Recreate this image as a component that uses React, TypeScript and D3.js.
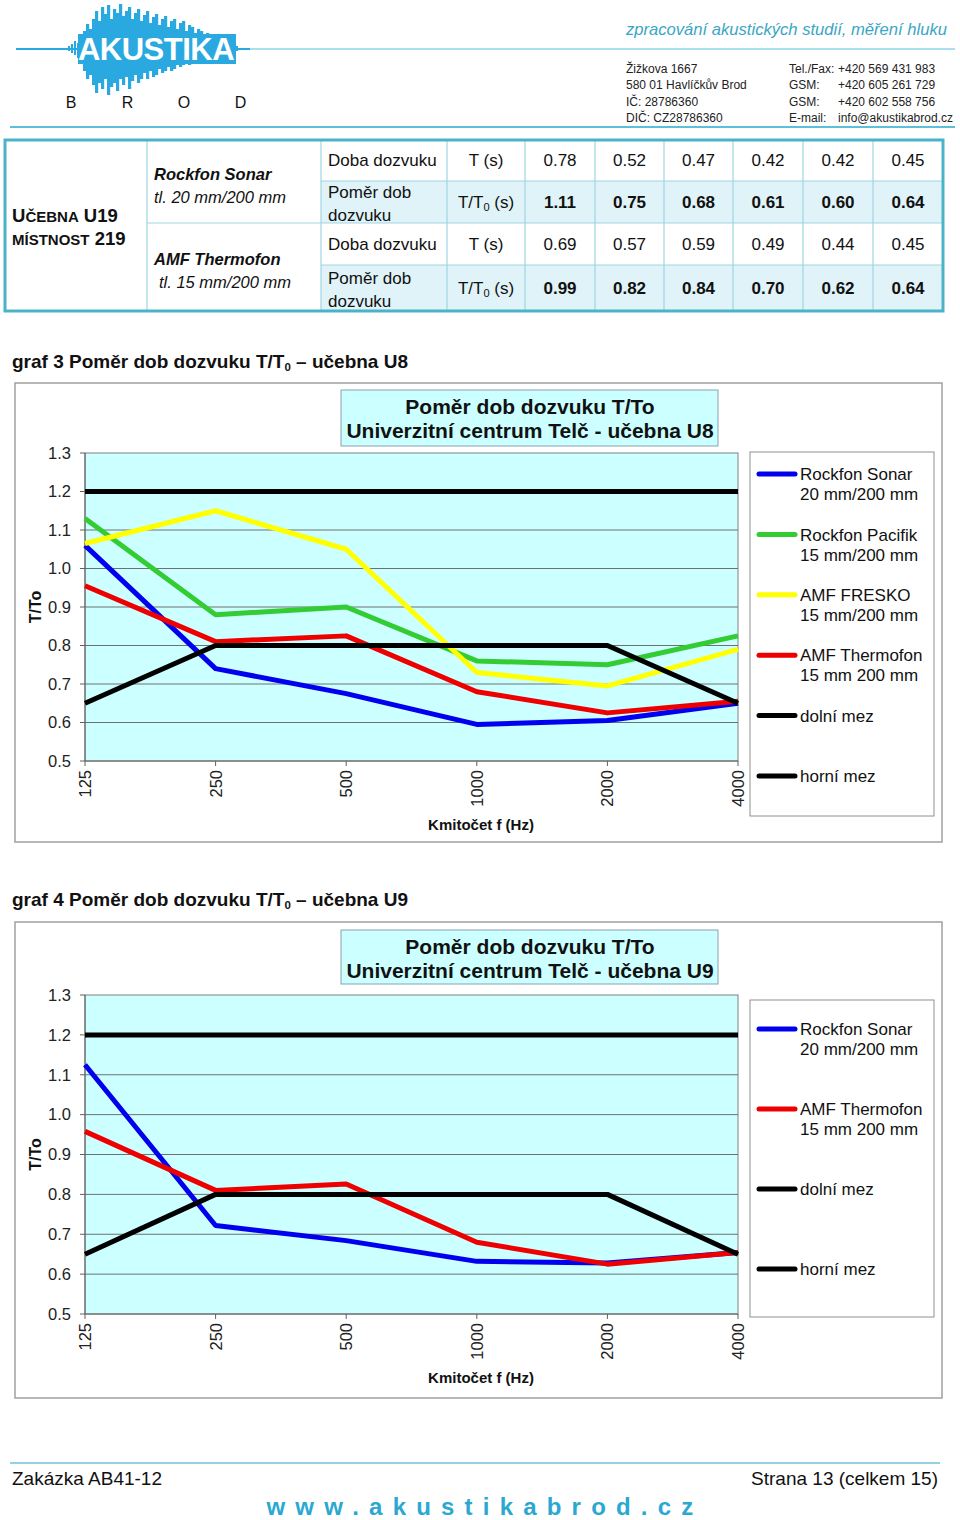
import React from "react";
import * as d3 from "d3";

// ---------- DATA ----------
const freqs = ["125", "250", "500", "1000", "2000", "4000"];
const yTicks = [0.5, 0.6, 0.7, 0.8, 0.9, 1.0, 1.1, 1.2, 1.3];

// table (učebna U19)
const sonarT = [0.78, 0.52, 0.47, 0.42, 0.42, 0.45];
const sonarRatio = [1.11, 0.75, 0.68, 0.61, 0.6, 0.64];
const thermoT = [0.69, 0.57, 0.59, 0.49, 0.44, 0.45];
const thermoRatio = [0.99, 0.82, 0.84, 0.7, 0.62, 0.64];

// graf 3 (U8)
const u8Sonar = [1.06, 0.74, 0.675, 0.595, 0.605, 0.65];
const u8Pacifik = [1.13, 0.88, 0.9, 0.76, 0.75, 0.825];
const u8Fresko = [1.065, 1.15, 1.05, 0.73, 0.695, 0.79];
const u8Thermofon = [0.955, 0.81, 0.825, 0.68, 0.625, 0.655];

// graf 4 (U9)
const u9Sonar = [1.125, 0.722, 0.684, 0.632, 0.628, 0.654];
const u9Thermofon = [0.958, 0.81, 0.826, 0.68, 0.625, 0.654];

// limits
const lowerLimit = [0.65, 0.8, 0.8, 0.8, 0.8, 0.65];
const upperLimit = [1.2, 1.2, 1.2, 1.2, 1.2, 1.2];

// logo decoration (waveform amplitudes)
const waveUp = [3,5,8,6,12,18,25,20,30,38,28,42,35,44,30,40,36,45,33,38,42,30,36,40,28,34,38,26,32,35,24,30,33,22,28,30,20,26,28,18,24,22,16,20,18,14,16,12,14,10,12,8,10,6,5,4,3];
const waveDown = [2,4,6,9,14,22,30,26,36,44,34,40,30,46,38,34,42,30,36,28,40,32,26,34,30,24,30,22,28,26,20,24,22,18,22,20,16,18,16,14,16,12,14,10,12,9,10,8,8,6,6,5,4,4,3,2,2];

const FONT = "'Liberation Sans', Arial, Helvetica, sans-serif";
const TEAL = "#4bb3c8";

type Series = { name: string[]; color: string; values: number[] };

function Chart(props: {
  top: number;
  bottom: number;
  plotTop: number;
  plotBottom: number;
  titleBox: [number, number];
  subtitle: string;
  series: Series[];
  legendBox: [number, number];
  legendFirst: number;
  legendStep: number;
}) {
  const { top, bottom, plotTop, plotBottom, series } = props;
  const x = d3.scalePoint<string>().domain(freqs).range([85, 738]);
  const y = d3.scaleLinear().domain([0.5, 1.3]).range([plotBottom, plotTop]);
  const line = d3
    .line<number>()
    .x((_, i) => x(freqs[i]) as number)
    .y((d) => y(d));
  const midY = (plotTop + plotBottom) / 2;
  return (
    <g fontFamily={FONT}>
      <rect x={15} y={top} width={927} height={bottom - top} fill="#fff" stroke="#a0a0a0" strokeWidth={1.5} />
      <rect x={85} y={plotTop} width={653} height={plotBottom - plotTop} fill="#ccffff" stroke="#808080" strokeWidth={1} />
      {yTicks.slice(1, -1).map((t) => (
        <line key={t} x1={85} x2={738} y1={y(t)} y2={y(t)} stroke="#707070" strokeWidth={1} />
      ))}
      {yTicks.map((t) => (
        <g key={"yt" + t}>
          <line x1={80} x2={85} y1={y(t)} y2={y(t)} stroke="#606060" />
          <text x={71} y={y(t)} dy="0.35em" textAnchor="end" fontSize={16.5} fill="#222">
            {t.toFixed(1)}
          </text>
        </g>
      ))}
      {freqs.map((f) => (
        <g key={"xt" + f}>
          <line x1={x(f)} x2={x(f)} y1={plotBottom} y2={plotBottom + 5} stroke="#606060" />
          <text
            transform={`translate(${(x(f) as number) + 6},${plotBottom + 9}) rotate(-90)`}
            textAnchor="end"
            fontSize={16.5}
            fill="#222"
          >
            {f}
          </text>
        </g>
      ))}
      <line x1={85} x2={85} y1={plotTop} y2={plotBottom} stroke="#606060" />
      <line x1={85} x2={738} y1={plotBottom} y2={plotBottom} stroke="#606060" />
      <text transform={`translate(41,${midY}) rotate(-90)`} textAnchor="middle" fontSize={16} fontWeight="bold" fill="#111">
        T/To
      </text>
      <text x={481} y={plotBottom + 69} textAnchor="middle" fontSize={15} fontWeight="bold" fill="#111">
        Kmitočet f (Hz)
      </text>
      {series.map((s, i) => (
        <path key={i} d={line(s.values) || ""} fill="none" stroke={s.color} strokeWidth={5} strokeLinejoin="round" />
      ))}
      {/* title */}
      <rect x={341} y={props.titleBox[0]} width={377} height={props.titleBox[1] - props.titleBox[0]} fill="#ccffff" stroke="#8aa0b0" />
      <text x={530} y={props.titleBox[0] + 24} textAnchor="middle" fontSize={21} fontWeight="bold" fill="#111">
        Poměr dob dozvuku T/To
      </text>
      <text x={530} y={props.titleBox[0] + 48} textAnchor="middle" fontSize={21} fontWeight="bold" fill="#111">
        {props.subtitle}
      </text>
      {/* legend */}
      <rect x={750} y={props.legendBox[0]} width={184} height={props.legendBox[1] - props.legendBox[0]} fill="#fff" stroke="#909090" />
      {series.map((s, i) => {
        const ly = props.legendFirst + i * props.legendStep;
        return (
          <g key={"lg" + i}>
            <line x1={759} x2={795} y1={ly} y2={ly} stroke={s.color} strokeWidth={5} strokeLinecap="round" />
            {s.name.map((n, j) => (
              <text key={j} x={800} y={ly + j * 20} dy="0.36em" fontSize={17} fill="#111">
                {n}
              </text>
            ))}
          </g>
        );
      })}
    </g>
  );
}

function Logo() {
  const n = Math.min(waveUp.length, waveDown.length);
  const cy = 49;
  return (
    <g>
      <line x1={16} x2={955} y1={cy} y2={cy} stroke="#8fd3e8" strokeWidth={1.5} />
      <line x1={16} x2={250} y1={cy} y2={cy} stroke="#29a9e0" strokeWidth={2} />
      {d3.range(n).map((i) => (
        <rect
          key={i}
          x={68 + i * 3}
          y={cy - waveUp[i]}
          width={i > 3 && i < n - 4 ? 3.2 : 2}
          height={waveUp[i] + waveDown[i]}
          fill="#29a9e0"
        />
      ))}
      <rect x={78} y={34} width={158} height={30} fill="#29a9e0" />
      <text x={156} y={60} textAnchor="middle" fontFamily={FONT} fontWeight="bold" fontSize={31} fill="#fff" letterSpacing={-0.5}>
        AKUSTIKA
      </text>
      {["B", "R", "O", "D"].map((c, i) => (
        <text key={c} x={71 + i * 56.5} y={108} textAnchor="middle" fontFamily={FONT} fontSize={16} fill="#111">
          {c}
        </text>
      ))}
    </g>
  );
}

function Header() {
  const left = ["Žižkova 1667", "580 01 Havlíčkův Brod", "IČ: 28786360", "DIČ: CZ28786360"];
  const mid = ["Tel./Fax:", "GSM:", "GSM:", "E-mail:"];
  const right = ["+420 569 431 983", "+420 605 261 729", "+420 602 558 756", "info@akustikabrod.cz"];
  return (
    <g fontFamily={FONT}>
      <Logo />
      <text x={626} y={35} fontSize={16.6} fontStyle="italic" fill="#3aa6c4">
        zpracování akustických studií, měření hluku
      </text>
      {left.map((t, i) => (
        <text key={"l" + i} x={626} y={73 + i * 16.3} fontSize={12} fill="#222">{t}</text>
      ))}
      {mid.map((t, i) => (
        <text key={"m" + i} x={789} y={73 + i * 16.3} fontSize={12} fill="#222">{t}</text>
      ))}
      {right.map((t, i) => (
        <text key={"r" + i} x={838} y={73 + i * 16.3} fontSize={12} fill="#222">{t}</text>
      ))}
      <line x1={10} x2={955} y1={127} y2={127} stroke="#5cc0d8" strokeWidth={2} />
    </g>
  );
}

function T0({ size = 17 }: { size?: number }) {
  return (
    <>
      T/T<tspan fontSize={size * 0.65} dy={3}>0</tspan>
      <tspan dy={-3}> (s)</tspan>
    </>
  );
}

function Table() {
  const rowsY = [140, 181, 223, 265, 311];
  const colX = [5, 147, 321, 447, 525, 595, 664, 733, 803, 873, 943];
  const rows = [
    { label: ["Doba dozvuku"], unit: "T", vals: sonarT, bold: false, fill: "#fff" },
    { label: ["Poměr dob", "dozvuku"], unit: "R", vals: sonarRatio, bold: true, fill: "#dff3f8" },
    { label: ["Doba dozvuku"], unit: "T", vals: thermoT, bold: false, fill: "#fff" },
    { label: ["Poměr dob", "dozvuku"], unit: "R", vals: thermoRatio, bold: true, fill: "#dff3f8" },
  ];
  const inner = "#9fd6e3";
  return (
    <g fontFamily={FONT} fill="#111">
      <rect x={5} y={140} width={938} height={171} fill="#fff" />
      {rows.map((r, i) => (
        <rect key={"bg" + i} x={321} y={rowsY[i]} width={622} height={rowsY[i + 1] - rowsY[i]} fill={r.fill} />
      ))}
      {colX.slice(1, -1).map((cx, i) => (
        <line key={"c" + i} x1={cx} x2={cx} y1={140} y2={311} stroke={inner} strokeWidth={1.2} />
      ))}
      {rowsY.slice(1, -1).map((ry, i) => (
        <line key={"r" + i} x1={i === 1 ? 147 : 321} x2={943} y1={ry} y2={ry} stroke={inner} strokeWidth={1.2} />
      ))}
      <rect x={5} y={140} width={938} height={171} fill="none" stroke={TEAL} strokeWidth={3} />
      <text x={12} y={222} fontWeight="bold" fontSize={18.5}>
        U<tspan fontSize={15}>ČEBNA</tspan> U19
      </text>
      <text x={12} y={245} fontWeight="bold" fontSize={18.5}>
        <tspan fontSize={15}>MÍSTNOST</tspan> 219
      </text>
      <text x={154} y={180} fontWeight="bold" fontStyle="italic" fontSize={16.5}>Rockfon Sonar</text>
      <text x={154} y={203} fontStyle="italic" fontSize={16.5}>tl. 20 mm/200 mm</text>
      <text x={154} y={265} fontWeight="bold" fontStyle="italic" fontSize={16.5}>AMF Thermofon</text>
      <text x={159} y={288} fontStyle="italic" fontSize={16.5}>tl. 15 mm/200 mm</text>
      {rows.map((r, i) => {
        const y0 = rowsY[i];
        const y1 = rowsY[i + 1];
        const cy = (y0 + y1) / 2;
        return (
          <g key={"row" + i}>
            {r.label.length === 1 ? (
              <text x={328} y={cy} dy="0.35em" fontSize={17}>{r.label[0]}</text>
            ) : (
              <>
                <text x={328} y={cy - 10} dy="0.35em" fontSize={17}>{r.label[0]}</text>
                <text x={328} y={cy + 13} dy="0.35em" fontSize={17}>{r.label[1]}</text>
              </>
            )}
            <text x={486} y={cy} dy="0.35em" textAnchor="middle" fontSize={17}>
              {r.unit === "T" ? "T (s)" : <T0 />}
            </text>
            {r.vals.map((v, j) => (
              <text
                key={j}
                x={(colX[j + 4] + colX[j + 5]) / 2}
                y={cy}
                dy="0.35em"
                textAnchor="middle"
                fontSize={17}
                fontWeight={r.bold ? "bold" : "normal"}
              >
                {v.toFixed(2)}
              </text>
            ))}
          </g>
        );
      })}
    </g>
  );
}

function Heading({ y, n, room }: { y: number; n: number; room: string }) {
  return (
    <text x={12} y={y} fontFamily={FONT} fontWeight="bold" fontSize={19} fill="#111">
      graf {n} Poměr dob dozvuku T/T<tspan fontSize={11.5} dy={3}>0</tspan>
      <tspan dy={-3}> – učebna {room}</tspan>
    </text>
  );
}

export default function App() {
  const s1: Series[] = [
    { name: ["Rockfon Sonar", "20 mm/200 mm"], color: "#0000ee", values: u8Sonar },
    { name: ["Rockfon Pacifik", "15 mm/200 mm"], color: "#33cc33", values: u8Pacifik },
    { name: ["AMF FRESKO", "15 mm/200 mm"], color: "#ffff00", values: u8Fresko },
    { name: ["AMF Thermofon", "15 mm 200 mm"], color: "#ee0000", values: u8Thermofon },
    { name: ["dolní mez"], color: "#000", values: lowerLimit },
    { name: ["horní mez"], color: "#000", values: upperLimit },
  ];
  const s2: Series[] = [
    { name: ["Rockfon Sonar", "20 mm/200 mm"], color: "#0000ee", values: u9Sonar },
    { name: ["AMF Thermofon", "15 mm 200 mm"], color: "#ee0000", values: u9Thermofon },
    { name: ["dolní mez"], color: "#000", values: lowerLimit },
    { name: ["horní mez"], color: "#000", values: upperLimit },
  ];
  return (
    <svg width={960} height={1520} style={{ position: "absolute", left: 0, top: 0, background: "#fff" }}>
      <rect width={960} height={1520} fill="#fff" />
      <Header />
      <Table />
      <Heading y={368} n={3} room="U8" />
      <Chart
        top={383}
        bottom={842}
        plotTop={453}
        plotBottom={761}
        titleBox={[390, 446]}
        subtitle="Univerzitní centrum Telč - učebna U8"
        series={s1}
        legendBox={[452, 816]}
        legendFirst={474}
        legendStep={60.4}
      />
      <Heading y={906} n={4} room="U9" />
      <Chart
        top={922}
        bottom={1398}
        plotTop={995}
        plotBottom={1314}
        titleBox={[930, 984]}
        subtitle="Univerzitní centrum Telč - učebna U9"
        series={s2}
        legendBox={[1000, 1317]}
        legendFirst={1029}
        legendStep={80}
      />
      <g fontFamily={FONT}>
        <line x1={10} x2={940} y1={1463} y2={1463} stroke="#6cc4d6" strokeWidth={1.5} />
        <text x={12} y={1485} fontSize={19} fill="#111">Zakázka AB41-12</text>
        <text x={938} y={1485} fontSize={19} textAnchor="end" fill="#111">Strana 13 (celkem 15)</text>
        <text x={485} y={1515} fontSize={24} fontWeight="bold" textAnchor="middle" fill="#2aa8d2" letterSpacing={10.2}>
          www.akustikabrod.cz
        </text>
      </g>
    </svg>
  );
}
